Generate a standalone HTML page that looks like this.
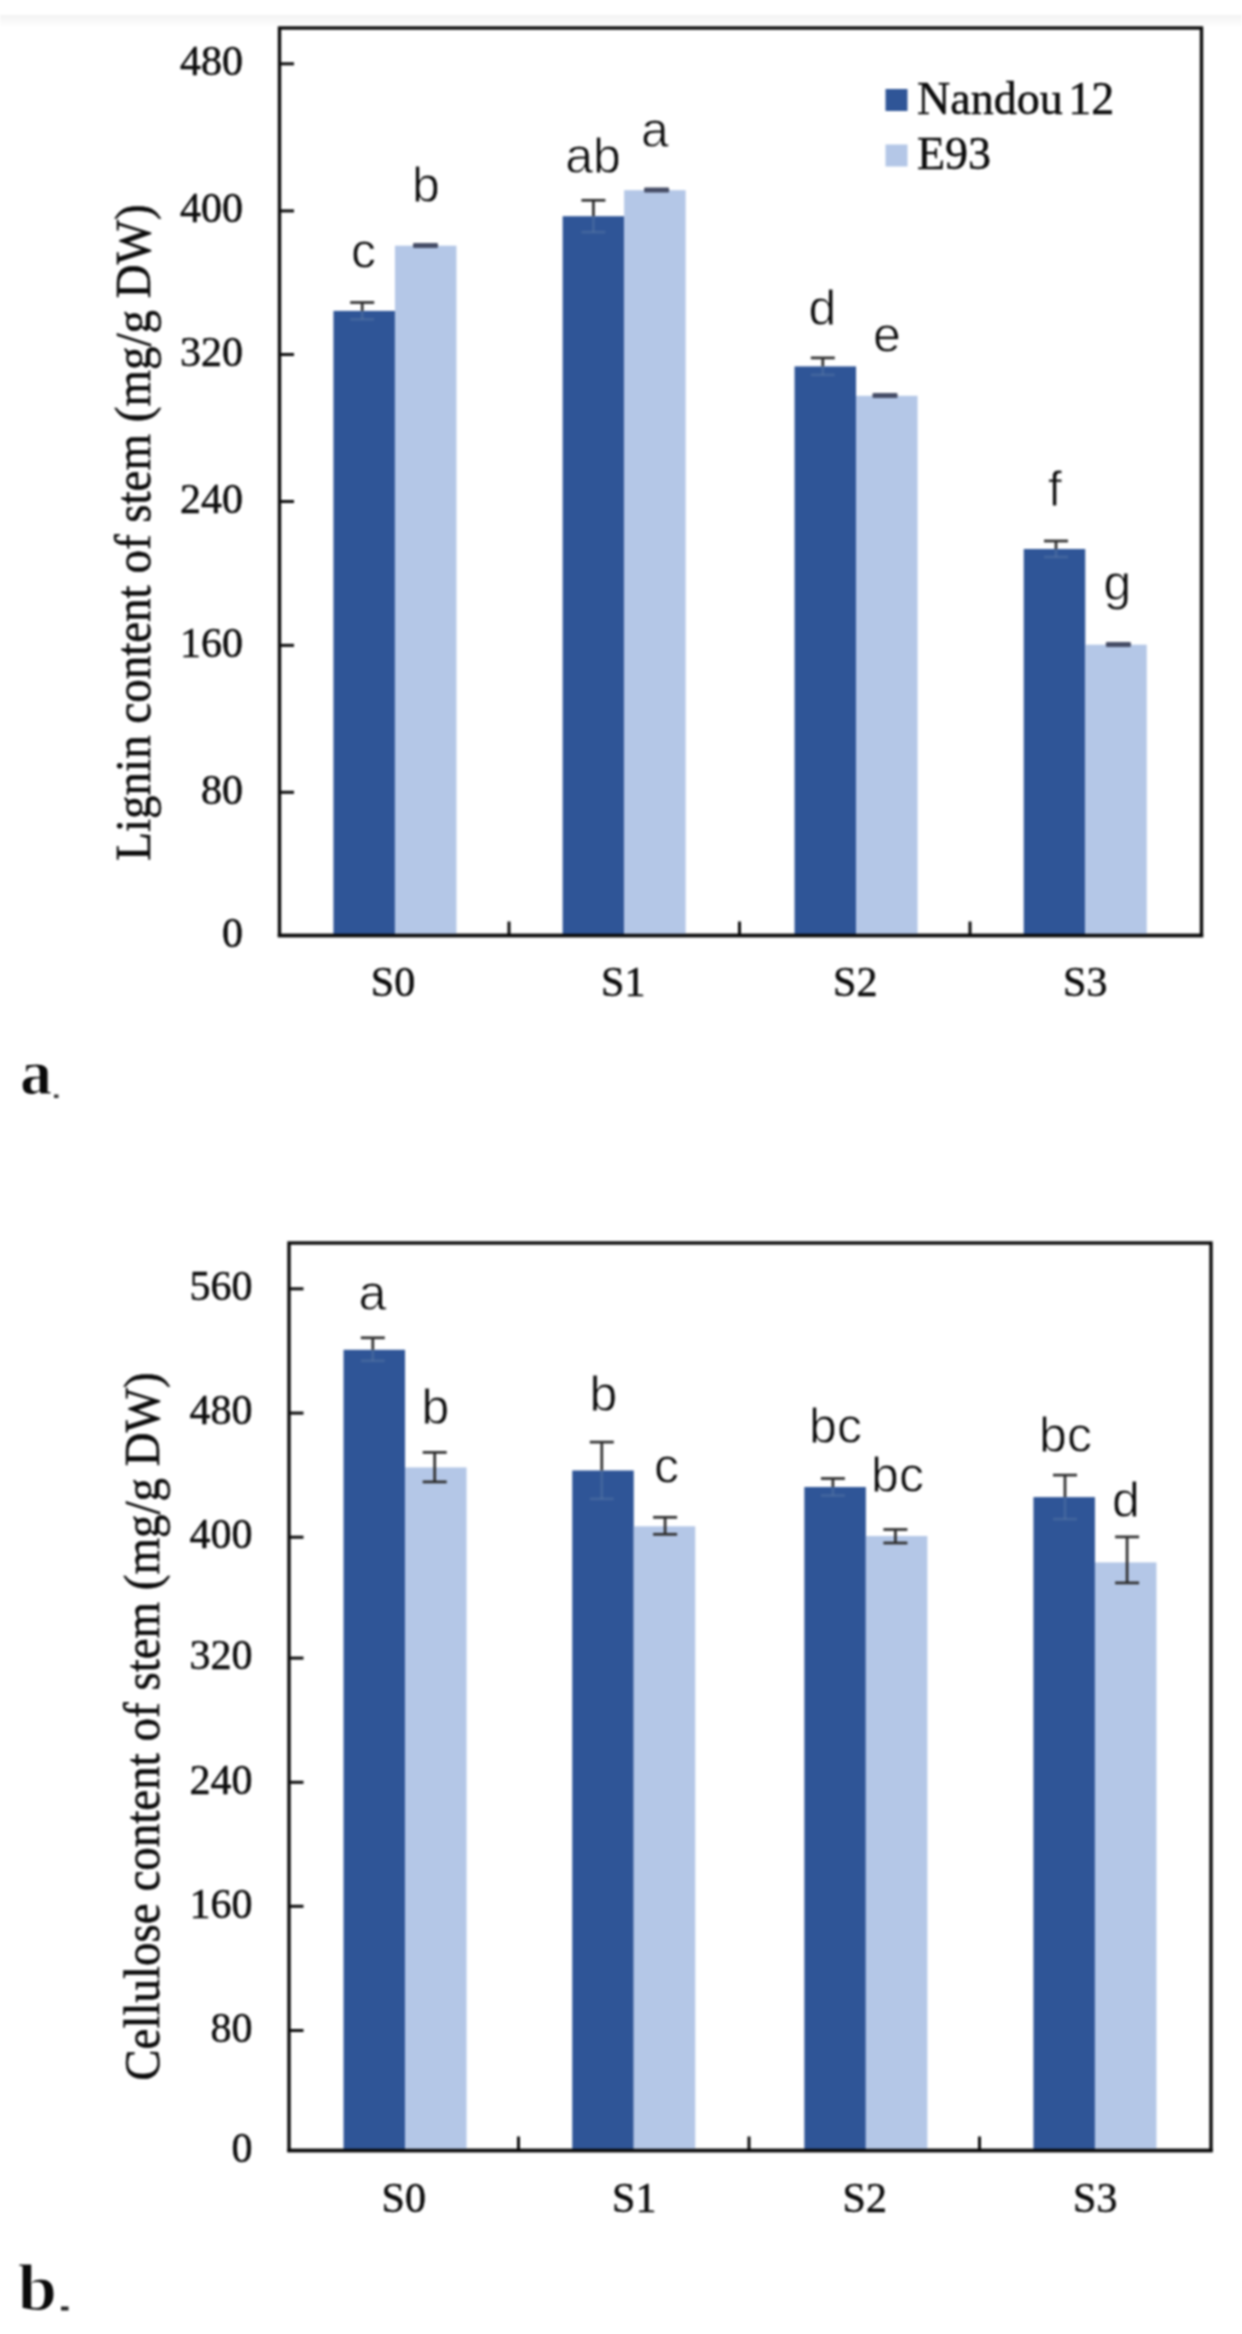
<!DOCTYPE html>
<html><head><meta charset="utf-8"><title>Figure</title>
<style>html,body{margin:0;padding:0;background:#fff;}body{width:1242px;height:2334px;overflow:hidden;position:relative;}svg{display:block;position:absolute;left:0;top:0;filter:blur(0.85px);}</style>
</head><body>
<svg width="1242" height="2334" viewBox="0 0 1242 2334">
<defs><linearGradient id="tg" x1="0" y1="0" x2="0" y2="1"><stop offset="0" stop-color="#f3f3f3"/><stop offset="1" stop-color="#ffffff"/></linearGradient></defs>
<rect x="0" y="0" width="1242" height="2334" fill="#ffffff"/>
<rect x="0" y="15" width="1242" height="12" fill="url(#tg)"/>
<rect x="279.5" y="28" width="922.0" height="907.5" fill="none" stroke="#0a0a0a" stroke-width="3.4"/>
<text x="243" y="946.70" text-anchor="end" font-family='"Liberation Serif", serif' font-size="42" fill="#0c0c0c" stroke="#0c0c0c" stroke-width="0.5">0</text>
<line x1="279.5" y1="792.30" x2="294.0" y2="792.30" stroke="#0a0a0a" stroke-width="3"/>
<text x="243" y="803.50" text-anchor="end" font-family='"Liberation Serif", serif' font-size="42" fill="#0c0c0c" stroke="#0c0c0c" stroke-width="0.5">80</text>
<line x1="279.5" y1="645.35" x2="294.0" y2="645.35" stroke="#0a0a0a" stroke-width="3"/>
<text x="243" y="656.55" text-anchor="end" font-family='"Liberation Serif", serif' font-size="42" fill="#0c0c0c" stroke="#0c0c0c" stroke-width="0.5">160</text>
<line x1="279.5" y1="501.50" x2="294.0" y2="501.50" stroke="#0a0a0a" stroke-width="3"/>
<text x="243" y="512.70" text-anchor="end" font-family='"Liberation Serif", serif' font-size="42" fill="#0c0c0c" stroke="#0c0c0c" stroke-width="0.5">240</text>
<line x1="279.5" y1="354.50" x2="294.0" y2="354.50" stroke="#0a0a0a" stroke-width="3"/>
<text x="243" y="365.70" text-anchor="end" font-family='"Liberation Serif", serif' font-size="42" fill="#0c0c0c" stroke="#0c0c0c" stroke-width="0.5">320</text>
<line x1="279.5" y1="210.90" x2="294.0" y2="210.90" stroke="#0a0a0a" stroke-width="3"/>
<text x="243" y="222.10" text-anchor="end" font-family='"Liberation Serif", serif' font-size="42" fill="#0c0c0c" stroke="#0c0c0c" stroke-width="0.5">400</text>
<line x1="279.5" y1="63.80" x2="294.0" y2="63.80" stroke="#0a0a0a" stroke-width="3"/>
<text x="243" y="75.00" text-anchor="end" font-family='"Liberation Serif", serif' font-size="42" fill="#0c0c0c" stroke="#0c0c0c" stroke-width="0.5">480</text>
<line x1="509.00" y1="935.5" x2="509.00" y2="921.5" stroke="#0a0a0a" stroke-width="3"/>
<line x1="739.50" y1="935.5" x2="739.50" y2="921.5" stroke="#0a0a0a" stroke-width="3"/>
<line x1="970.00" y1="935.5" x2="970.00" y2="921.5" stroke="#0a0a0a" stroke-width="3"/>
<rect x="333.45" y="310.90" width="61.5" height="624.60" fill="#2f5597"/>
<rect x="394.95" y="245.70" width="61.5" height="689.80" fill="#b4c7e7"/>
<rect x="562.65" y="216.20" width="61.5" height="719.30" fill="#2f5597"/>
<rect x="624.15" y="190.20" width="61.5" height="745.30" fill="#b4c7e7"/>
<rect x="794.55" y="366.40" width="61.5" height="569.10" fill="#2f5597"/>
<rect x="856.05" y="395.80" width="61.5" height="539.70" fill="#b4c7e7"/>
<rect x="1023.75" y="549.00" width="61.5" height="386.50" fill="#2f5597"/>
<rect x="1085.25" y="644.70" width="61.5" height="290.80" fill="#b4c7e7"/>
<line x1="277.8" y1="935.5" x2="1203.2" y2="935.5" stroke="#0a0a0a" stroke-width="3.4"/>
<g stroke="#2e2e2e" stroke-width="2.7" fill="none">
<line x1="362.20" y1="302.50" x2="362.20" y2="310.90"/>
<line x1="350.20" y1="302.50" x2="374.20" y2="302.50"/>
<g stroke="#5a7aa6" stroke-opacity="0.45">
<line x1="362.20" y1="310.90" x2="362.20" y2="319.30"/>
<line x1="350.20" y1="319.30" x2="374.20" y2="319.30"/>
</g>
</g>
<g stroke="#2e2e2e" stroke-width="2.7" fill="none">
<rect x="413.00" y="243.00" width="25" height="5" rx="1.2" fill="#464d66" stroke="none"/>
</g>
<g stroke="#2e2e2e" stroke-width="2.7" fill="none">
<line x1="593.40" y1="200.30" x2="593.40" y2="216.20"/>
<line x1="581.40" y1="200.30" x2="605.40" y2="200.30"/>
<g stroke="#5a7aa6" stroke-opacity="0.45">
<line x1="593.40" y1="216.20" x2="593.40" y2="232.10"/>
<line x1="581.40" y1="232.10" x2="605.40" y2="232.10"/>
</g>
</g>
<g stroke="#2e2e2e" stroke-width="2.7" fill="none">
<rect x="644.10" y="187.50" width="25" height="5" rx="1.2" fill="#464d66" stroke="none"/>
</g>
<g stroke="#2e2e2e" stroke-width="2.7" fill="none">
<line x1="822.80" y1="357.90" x2="822.80" y2="366.40"/>
<line x1="810.80" y1="357.90" x2="834.80" y2="357.90"/>
<g stroke="#5a7aa6" stroke-opacity="0.45">
<line x1="822.80" y1="366.40" x2="822.80" y2="374.90"/>
<line x1="810.80" y1="374.90" x2="834.80" y2="374.90"/>
</g>
</g>
<g stroke="#2e2e2e" stroke-width="2.7" fill="none">
<rect x="872.50" y="393.10" width="25" height="5" rx="1.2" fill="#464d66" stroke="none"/>
</g>
<g stroke="#2e2e2e" stroke-width="2.7" fill="none">
<line x1="1056.00" y1="541.00" x2="1056.00" y2="549.00"/>
<line x1="1044.00" y1="541.00" x2="1068.00" y2="541.00"/>
<g stroke="#5a7aa6" stroke-opacity="0.45">
<line x1="1056.00" y1="549.00" x2="1056.00" y2="557.00"/>
<line x1="1044.00" y1="557.00" x2="1068.00" y2="557.00"/>
</g>
</g>
<g stroke="#2e2e2e" stroke-width="2.7" fill="none">
<rect x="1105.90" y="642.00" width="25" height="5" rx="1.2" fill="#464d66" stroke="none"/>
</g>
<text x="363.5" y="268" text-anchor="middle" font-family='"Liberation Sans", sans-serif' font-size="50" fill="#0c0c0c" stroke="#ffffff" stroke-width="0.8">c</text>
<text x="426" y="202" text-anchor="middle" font-family='"Liberation Sans", sans-serif' font-size="50" fill="#0c0c0c" stroke="#ffffff" stroke-width="0.8">b</text>
<text x="593" y="173" text-anchor="middle" font-family='"Liberation Sans", sans-serif' font-size="50" fill="#0c0c0c" stroke="#ffffff" stroke-width="0.8">ab</text>
<text x="655" y="147" text-anchor="middle" font-family='"Liberation Sans", sans-serif' font-size="50" fill="#0c0c0c" stroke="#ffffff" stroke-width="0.8">a</text>
<text x="822.5" y="325" text-anchor="middle" font-family='"Liberation Sans", sans-serif' font-size="50" fill="#0c0c0c" stroke="#ffffff" stroke-width="0.8">d</text>
<text x="887" y="352" text-anchor="middle" font-family='"Liberation Sans", sans-serif' font-size="50" fill="#0c0c0c" stroke="#ffffff" stroke-width="0.8">e</text>
<text x="1055" y="505.5" text-anchor="middle" font-family='"Liberation Sans", sans-serif' font-size="50" fill="#0c0c0c" stroke="#ffffff" stroke-width="0.8">f</text>
<text x="1117.5" y="600" text-anchor="middle" font-family='"Liberation Sans", sans-serif' font-size="50" fill="#0c0c0c" stroke="#ffffff" stroke-width="0.8">g</text>
<text x="393.05" y="995.5" text-anchor="middle" font-family='"Liberation Serif", serif' font-size="42" fill="#0c0c0c" stroke="#0c0c0c" stroke-width="0.5">S0</text>
<text x="623.25" y="995.5" text-anchor="middle" font-family='"Liberation Serif", serif' font-size="42" fill="#0c0c0c" stroke="#0c0c0c" stroke-width="0.5">S1</text>
<text x="855.25" y="995.5" text-anchor="middle" font-family='"Liberation Serif", serif' font-size="42" fill="#0c0c0c" stroke="#0c0c0c" stroke-width="0.5">S2</text>
<text x="1085.25" y="995.5" text-anchor="middle" font-family='"Liberation Serif", serif' font-size="42" fill="#0c0c0c" stroke="#0c0c0c" stroke-width="0.5">S3</text>
<text transform="translate(149.5,532.5) rotate(-90) scale(1,1.07)" text-anchor="middle" font-family='"Liberation Serif", serif' font-size="47" fill="#0c0c0c" stroke="#0c0c0c" stroke-width="0.5">Lignin content of stem (mg/g DW)</text>
<rect x="885.5" y="89" width="22" height="22" fill="#2f5597"/>
<rect x="885.5" y="144.5" width="22" height="22" fill="#b4c7e7"/>
<text x="917" y="113.5" font-family='"Liberation Serif", serif' font-size="46" fill="#0c0c0c" stroke="#0c0c0c" stroke-width="0.5">Nandou<tspan dx="5.5">12</tspan></text>
<text x="917" y="169" font-family='"Liberation Serif", serif' font-size="46" fill="#0c0c0c" stroke="#0c0c0c" stroke-width="0.5">E93</text>
<text x="20" y="1094" font-family='"Liberation Serif", serif' font-weight="bold" font-size="64" fill="#0a0a0a" stroke="#ffffff" stroke-width="1.0">a</text>
<rect x="54" y="1094.5" width="4.5" height="3.5" fill="#333"/>
<rect x="289" y="1243" width="922" height="907.5" fill="none" stroke="#0a0a0a" stroke-width="3.4"/>
<text x="252.5" y="2161.70" text-anchor="end" font-family='"Liberation Serif", serif' font-size="42" fill="#0c0c0c" stroke="#0c0c0c" stroke-width="0.5">0</text>
<line x1="289" y1="2030.50" x2="303.5" y2="2030.50" stroke="#0a0a0a" stroke-width="3"/>
<text x="252.5" y="2041.70" text-anchor="end" font-family='"Liberation Serif", serif' font-size="42" fill="#0c0c0c" stroke="#0c0c0c" stroke-width="0.5">80</text>
<line x1="289" y1="1906.30" x2="303.5" y2="1906.30" stroke="#0a0a0a" stroke-width="3"/>
<text x="252.5" y="1917.50" text-anchor="end" font-family='"Liberation Serif", serif' font-size="42" fill="#0c0c0c" stroke="#0c0c0c" stroke-width="0.5">160</text>
<line x1="289" y1="1782.30" x2="303.5" y2="1782.30" stroke="#0a0a0a" stroke-width="3"/>
<text x="252.5" y="1793.50" text-anchor="end" font-family='"Liberation Serif", serif' font-size="42" fill="#0c0c0c" stroke="#0c0c0c" stroke-width="0.5">240</text>
<line x1="289" y1="1658.10" x2="303.5" y2="1658.10" stroke="#0a0a0a" stroke-width="3"/>
<text x="252.5" y="1669.30" text-anchor="end" font-family='"Liberation Serif", serif' font-size="42" fill="#0c0c0c" stroke="#0c0c0c" stroke-width="0.5">320</text>
<line x1="289" y1="1537.20" x2="303.5" y2="1537.20" stroke="#0a0a0a" stroke-width="3"/>
<text x="252.5" y="1548.40" text-anchor="end" font-family='"Liberation Serif", serif' font-size="42" fill="#0c0c0c" stroke="#0c0c0c" stroke-width="0.5">400</text>
<line x1="289" y1="1413.10" x2="303.5" y2="1413.10" stroke="#0a0a0a" stroke-width="3"/>
<text x="252.5" y="1424.30" text-anchor="end" font-family='"Liberation Serif", serif' font-size="42" fill="#0c0c0c" stroke="#0c0c0c" stroke-width="0.5">480</text>
<line x1="289" y1="1288.80" x2="303.5" y2="1288.80" stroke="#0a0a0a" stroke-width="3"/>
<text x="252.5" y="1300.00" text-anchor="end" font-family='"Liberation Serif", serif' font-size="42" fill="#0c0c0c" stroke="#0c0c0c" stroke-width="0.5">560</text>
<line x1="518.50" y1="2150.5" x2="518.50" y2="2136.5" stroke="#0a0a0a" stroke-width="3"/>
<line x1="749.00" y1="2150.5" x2="749.00" y2="2136.5" stroke="#0a0a0a" stroke-width="3"/>
<line x1="979.50" y1="2150.5" x2="979.50" y2="2136.5" stroke="#0a0a0a" stroke-width="3"/>
<rect x="343.55" y="1349.80" width="61.5" height="800.70" fill="#2f5597"/>
<rect x="405.05" y="1467.40" width="61.5" height="683.10" fill="#b4c7e7"/>
<rect x="572.25" y="1470.50" width="61.5" height="680.00" fill="#2f5597"/>
<rect x="633.75" y="1526.30" width="61.5" height="624.20" fill="#b4c7e7"/>
<rect x="804.35" y="1487.00" width="61.5" height="663.50" fill="#2f5597"/>
<rect x="865.85" y="1536.00" width="61.5" height="614.50" fill="#b4c7e7"/>
<rect x="1033.45" y="1497.10" width="61.5" height="653.40" fill="#2f5597"/>
<rect x="1094.95" y="1562.40" width="61.5" height="588.10" fill="#b4c7e7"/>
<line x1="287.3" y1="2150.5" x2="1212.7" y2="2150.5" stroke="#0a0a0a" stroke-width="3.4"/>
<g stroke="#2e2e2e" stroke-width="2.7" fill="none">
<line x1="372.80" y1="1337.80" x2="372.80" y2="1349.80"/>
<line x1="360.80" y1="1337.80" x2="384.80" y2="1337.80"/>
<g stroke="#5a7aa6" stroke-opacity="0.45">
<line x1="372.80" y1="1349.80" x2="372.80" y2="1360.80"/>
<line x1="360.80" y1="1360.80" x2="384.80" y2="1360.80"/>
</g>
</g>
<g stroke="#2e2e2e" stroke-width="2.7" fill="none">
<line x1="434.70" y1="1452.40" x2="434.70" y2="1481.90"/>
<line x1="422.70" y1="1452.40" x2="446.70" y2="1452.40"/>
<line x1="422.70" y1="1481.90" x2="446.70" y2="1481.90"/>
</g>
<g stroke="#2e2e2e" stroke-width="2.7" fill="none">
<line x1="601.80" y1="1442.10" x2="601.80" y2="1470.50"/>
<line x1="589.80" y1="1442.10" x2="613.80" y2="1442.10"/>
<g stroke="#5a7aa6" stroke-opacity="0.45">
<line x1="601.80" y1="1470.50" x2="601.80" y2="1498.90"/>
<line x1="589.80" y1="1498.90" x2="613.80" y2="1498.90"/>
</g>
</g>
<g stroke="#2e2e2e" stroke-width="2.7" fill="none">
<line x1="665.10" y1="1517.30" x2="665.10" y2="1534.30"/>
<line x1="653.10" y1="1517.30" x2="677.10" y2="1517.30"/>
<line x1="653.10" y1="1534.30" x2="677.10" y2="1534.30"/>
</g>
<g stroke="#2e2e2e" stroke-width="2.7" fill="none">
<line x1="832.90" y1="1478.50" x2="832.90" y2="1487.00"/>
<line x1="820.90" y1="1478.50" x2="844.90" y2="1478.50"/>
<g stroke="#5a7aa6" stroke-opacity="0.45">
<line x1="832.90" y1="1487.00" x2="832.90" y2="1495.50"/>
<line x1="820.90" y1="1495.50" x2="844.90" y2="1495.50"/>
</g>
</g>
<g stroke="#2e2e2e" stroke-width="2.7" fill="none">
<line x1="895.40" y1="1529.50" x2="895.40" y2="1543.00"/>
<line x1="883.40" y1="1529.50" x2="907.40" y2="1529.50"/>
<line x1="883.40" y1="1543.00" x2="907.40" y2="1543.00"/>
</g>
<g stroke="#2e2e2e" stroke-width="2.7" fill="none">
<line x1="1065.00" y1="1475.10" x2="1065.00" y2="1497.10"/>
<line x1="1053.00" y1="1475.10" x2="1077.00" y2="1475.10"/>
<g stroke="#5a7aa6" stroke-opacity="0.45">
<line x1="1065.00" y1="1497.10" x2="1065.00" y2="1519.10"/>
<line x1="1053.00" y1="1519.10" x2="1077.00" y2="1519.10"/>
</g>
</g>
<g stroke="#2e2e2e" stroke-width="2.7" fill="none">
<line x1="1127.10" y1="1536.90" x2="1127.10" y2="1582.90"/>
<line x1="1115.10" y1="1536.90" x2="1139.10" y2="1536.90"/>
<line x1="1115.10" y1="1582.90" x2="1139.10" y2="1582.90"/>
</g>
<text x="372.5" y="1310" text-anchor="middle" font-family='"Liberation Sans", sans-serif' font-size="50" fill="#0c0c0c" stroke="#ffffff" stroke-width="0.8">a</text>
<text x="435.5" y="1424" text-anchor="middle" font-family='"Liberation Sans", sans-serif' font-size="50" fill="#0c0c0c" stroke="#ffffff" stroke-width="0.8">b</text>
<text x="603.5" y="1410.5" text-anchor="middle" font-family='"Liberation Sans", sans-serif' font-size="50" fill="#0c0c0c" stroke="#ffffff" stroke-width="0.8">b</text>
<text x="666.5" y="1483" text-anchor="middle" font-family='"Liberation Sans", sans-serif' font-size="50" fill="#0c0c0c" stroke="#ffffff" stroke-width="0.8">c</text>
<text x="835.5" y="1443" text-anchor="middle" font-family='"Liberation Sans", sans-serif' font-size="50" fill="#0c0c0c" stroke="#ffffff" stroke-width="0.8">bc</text>
<text x="897.5" y="1492" text-anchor="middle" font-family='"Liberation Sans", sans-serif' font-size="50" fill="#0c0c0c" stroke="#ffffff" stroke-width="0.8">bc</text>
<text x="1065.5" y="1452" text-anchor="middle" font-family='"Liberation Sans", sans-serif' font-size="50" fill="#0c0c0c" stroke="#ffffff" stroke-width="0.8">bc</text>
<text x="1126" y="1517" text-anchor="middle" font-family='"Liberation Sans", sans-serif' font-size="50" fill="#0c0c0c" stroke="#ffffff" stroke-width="0.8">d</text>
<text x="403.75" y="2211.5" text-anchor="middle" font-family='"Liberation Serif", serif' font-size="42" fill="#0c0c0c" stroke="#0c0c0c" stroke-width="0.5">S0</text>
<text x="634.25" y="2211.5" text-anchor="middle" font-family='"Liberation Serif", serif' font-size="42" fill="#0c0c0c" stroke="#0c0c0c" stroke-width="0.5">S1</text>
<text x="864.75" y="2211.5" text-anchor="middle" font-family='"Liberation Serif", serif' font-size="42" fill="#0c0c0c" stroke="#0c0c0c" stroke-width="0.5">S2</text>
<text x="1095.25" y="2211.5" text-anchor="middle" font-family='"Liberation Serif", serif' font-size="42" fill="#0c0c0c" stroke="#0c0c0c" stroke-width="0.5">S3</text>
<text transform="translate(158.5,1726.5) rotate(-90) scale(1,1.07)" text-anchor="middle" font-family='"Liberation Serif", serif' font-size="47" fill="#0c0c0c" stroke="#0c0c0c" stroke-width="0.5">Cellulose content of stem (mg/g DW)</text>
<text transform="translate(17.8,2310) scale(1.07,1)" font-family='"Liberation Serif", serif' font-weight="bold" font-size="66" fill="#0a0a0a" stroke="#ffffff" stroke-width="1.2">b</text>
<rect x="61" y="2306.5" width="7.5" height="4" fill="#222"/>
</svg>
</body></html>
